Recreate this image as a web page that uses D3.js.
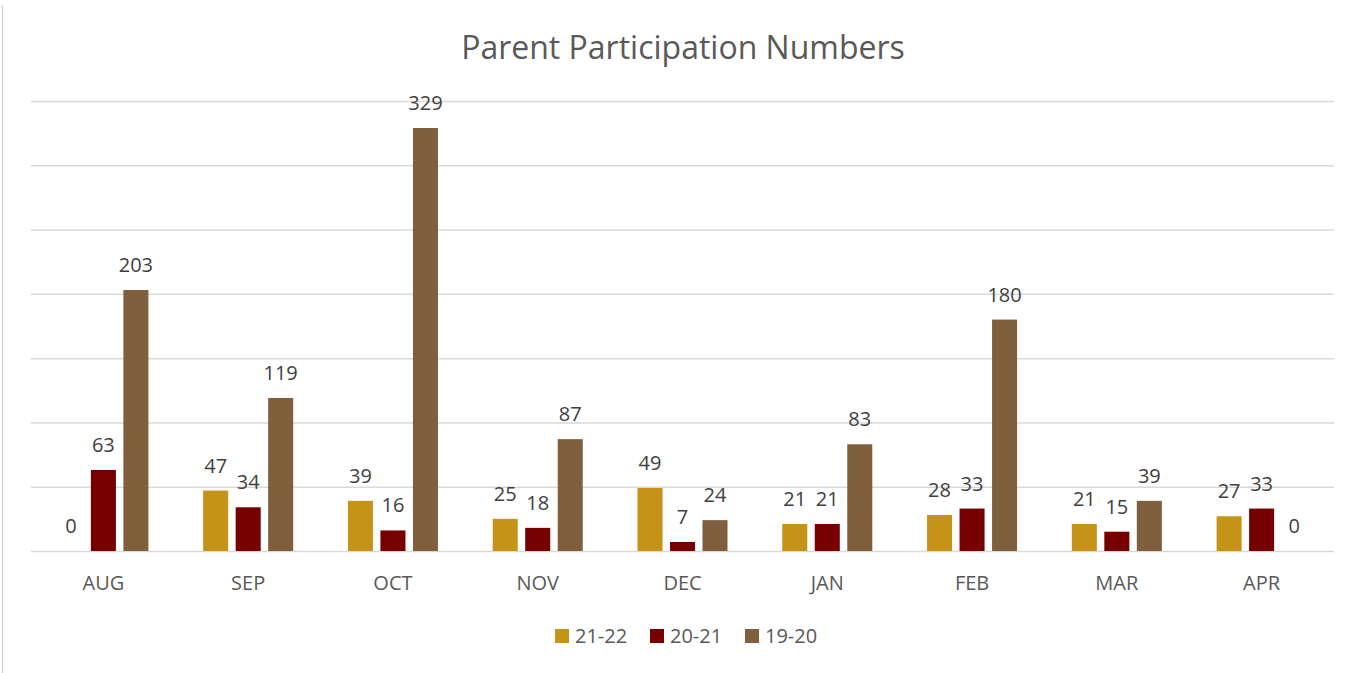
<!DOCTYPE html>
<html>
<head>
<meta charset="utf-8">
<script src="https://cdn.jsdelivr.net/npm/d3@7"></script>
<style>
  body { margin: 0; background: #fff; }
  text { font-family: "Open Sans", sans-serif; }
</style>
</head>
<body>
<div id="chart"></div>
<script>
// datos
var months = ["AUG", "SEP", "OCT", "NOV", "DEC", "JAN", "FEB", "MAR", "APR"];
var series = ["21-22", "20-21", "19-20"];
var v2122 = [0, 47, 39, 25, 49, 21, 28, 21, 27];
var v2021 = [63, 34, 16, 18, 7, 21, 33, 15, 33];
var v1920 = [203, 119, 329, 87, 24, 83, 180, 39, 0];
var yTicks = [0, 50, 100, 150, 200, 250, 300, 350];
var colors = ["#C59317", "#760000", "#7F5F3D"];

var width = 1363, height = 673;
var margin = {top: 101, right: 29, bottom: 122, left: 31};

var values = [v2122, v2021, v1920];
var rows = months.map(function(m, i) {
  return {month: m, vals: series.map(function(s, k) { return {key: s, k: k, value: values[k][i]}; })};
});

var svg = d3.select("#chart").append("svg")
  .attr("width", width)
  .attr("height", height);

// borde izquierdo del area del grafico
svg.append("line")
  .attr("x1", 2.5).attr("x2", 2.5)
  .attr("y1", 5).attr("y2", height)
  .style("stroke", "#d9d9d9")
  .style("stroke-width", 1.5);

var x0 = d3.scaleBand()
  .domain(months)
  .range([margin.left, width - margin.right]);

var bw = x0.bandwidth();
var x1 = d3.scaleBand()
  .domain(series)
  .range([bw / 2 - 48.75, bw / 2 + 48.75])
  .paddingInner(0.23)
  .paddingOuter(0.115);

var y = d3.scaleLinear()
  .domain([0, 350])
  .range([height - margin.bottom, margin.top]);

var color = d3.scaleOrdinal().domain(series).range(colors);

// lineas de grilla
svg.append("g")
  .attr("transform", "translate(" + margin.left + ",0)")
  .call(d3.axisLeft(y).tickValues(yTicks).tickSize(-(width - margin.left - margin.right)).tickFormat(""))
  .call(function(g) {
    g.select(".domain").remove();
    g.selectAll(".tick line").style("stroke", "#d9d9d9").style("stroke-width", 1.5);
  });

// titulo
svg.append("text")
  .attr("x", 683)
  .attr("y", 59)
  .style("text-anchor", "middle")
  .style("font-size", "32px")
  .style("fill", "#595959")
  .text("Parent Participation Numbers");

var groups = svg.selectAll(".grp")
  .data(rows)
  .enter()
  .append("g")
  .attr("class", "grp")
  .attr("transform", function(d) { return "translate(" + x0(d.month) + ",0)"; });

groups.selectAll("rect")
  .data(function(d) { return d.vals; })
  .enter()
  .append("rect")
  .attr("x", function(d) { return x1(d.key); })
  .attr("y", function(d) { return y(d.value); })
  .attr("width", x1.bandwidth())
  .attr("height", function(d) { return y(0) - y(d.value); })
  .style("fill", function(d) { return color(d.key); });

// etiquetas de datos
groups.selectAll(".lbl")
  .data(function(d) { return d.vals; })
  .enter()
  .append("text")
  .attr("class", "lbl")
  .attr("x", function(d) { return x1(d.key) + x1.bandwidth() / 2; })
  .attr("y", function(d) { return y(d.value) - 18; })
  .style("text-anchor", "middle")
  .style("font-size", "20px")
  .style("fill", "#404040")
  .text(function(d) { return d.value; });

// eje x
svg.append("g")
  .attr("transform", "translate(0," + y(0) + ")")
  .call(d3.axisBottom(x0).tickSize(0).tickPadding(0))
  .call(function(g) {
    g.select(".domain").remove();
    g.selectAll("text")
      .attr("y", 39)
      .attr("dy", 0)
      .style("font-family", "'Open Sans', sans-serif")
      .style("font-size", "20px")
      .style("fill", "#595959");
  });

// leyenda
var legendX = [555, 650, 745];
var legend = svg.selectAll(".leg")
  .data(series)
  .enter()
  .append("g")
  .attr("class", "leg")
  .attr("transform", function(d, i) { return "translate(" + legendX[i] + ",629)"; });

legend.append("rect")
  .attr("width", 14)
  .attr("height", 14)
  .style("fill", function(d) { return color(d); });

legend.append("text")
  .attr("x", 20)
  .attr("y", 14)
  .style("font-size", "20px")
  .style("fill", "#595959")
  .text(function(d) { return d; });
</script>
</body>
</html>
